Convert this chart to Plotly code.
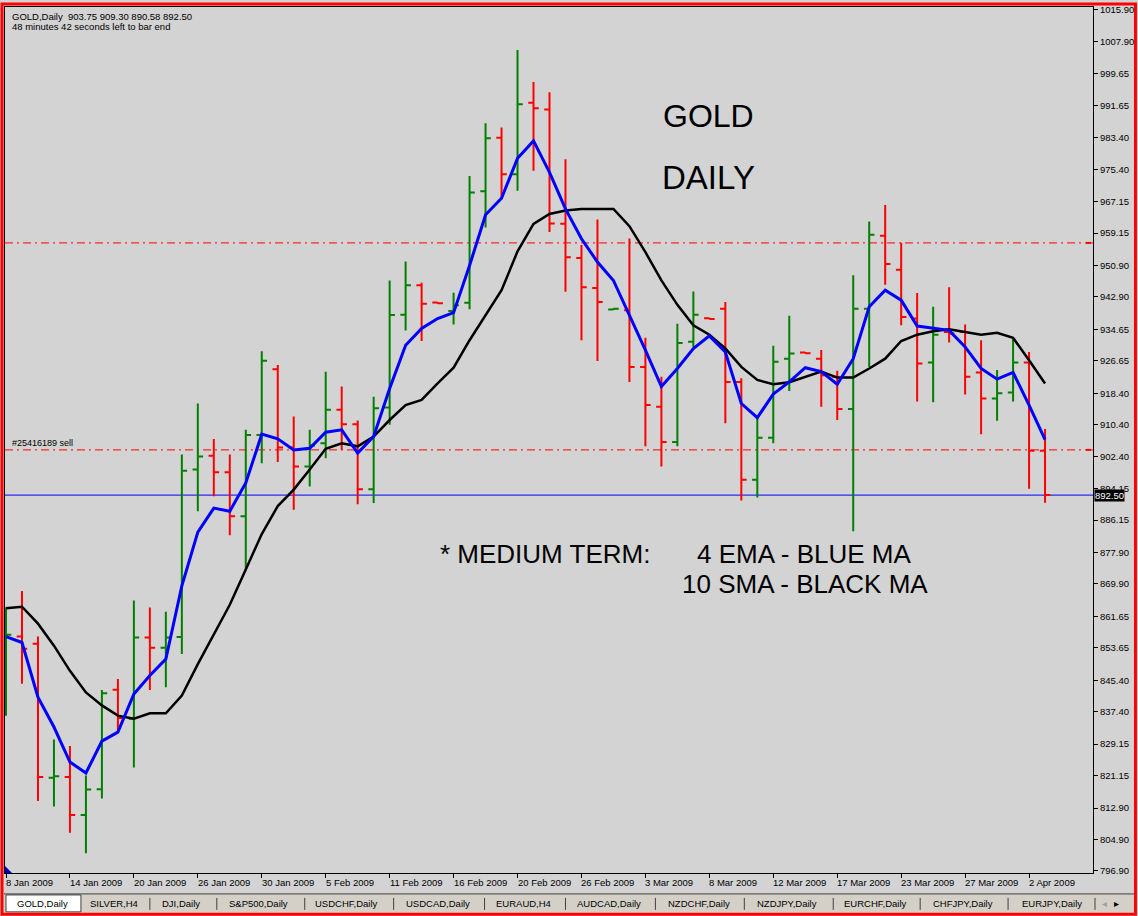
import plotly.graph_objects as go

# ---------------- data ----------------
opens = [840.0, 856.5, 854.7, 820.6, 820.8, 811.1, 817.7, 843.0, 835.6, 856.3,
         853.7, 856.4, 899.0, 902.5, 898.3, 887.1, 907.8, 924.5, 904.6, 899.8,
         905.7, 914.2, 910.5, 894.0, 914.8, 938.4, 945.9, 941.5, 939.3, 941.4,
         969.8, 983.4, 974.1, 992.3, 990.6, 961.5, 952.8, 945.2, 939.7, 939.5,
         925.1, 915.0, 906.0, 931.5, 937.5, 939.9, 921.3, 896.4, 907.1, 927.2,
         928.8, 927.2, 922.6, 914.4, 939.9, 958.5, 949.8, 937.4, 926.2, 934.0,
         934.0, 923.7, 917.1, 918.6, 926.2, 903.75]
highs = [863.9, 868.1, 856.5, 830.3, 828.7, 821.2, 842.9, 845.7, 865.7, 863.9,
         862.8, 902.8, 915.8, 906.8, 902.8, 909.1, 929.1, 925.6, 912.5, 909.1,
         923.9, 920.1, 911.5, 917.5, 947.1, 951.9, 946.5, 941.6, 944.0, 973.7,
         987.1, 986.0, 1005.7, 997.6, 995.0, 977.9, 956.1, 962.6, 940.0, 957.8,
         932.5, 922.6, 936.1, 944.3, 937.6, 941.6, 922.2, 912.5, 930.5, 938.1,
         928.9, 929.4, 924.1, 948.4, 962.1, 966.3, 956.7, 943.9, 940.4, 945.4,
         935.9, 931.9, 924.3, 932.5, 928.9, 909.30]
lows = [836.4, 844.5, 814.7, 813.3, 806.6, 801.4, 815.3, 832.2, 823.2, 842.9,
        843.6, 852.1, 888.4, 892.2, 882.3, 873.6, 900.6, 900.9, 888.8, 894.7,
        901.9, 904.0, 890.2, 890.5, 910.4, 934.4, 931.7, 941.2, 935.9, 939.8,
        960.6, 968.0, 969.9, 975.0, 959.4, 944.2, 931.9, 926.6, 939.6, 921.3,
        904.9, 899.8, 904.9, 930.2, 937.2, 910.8, 891.1, 891.9, 905.7, 919.0,
        928.5, 915.0, 911.6, 883.3, 925.1, 946.0, 935.7, 916.3, 916.1, 931.3,
        918.1, 908.0, 911.4, 916.3, 894.1, 890.58]
closes = [857.0, 853.4, 820.8, 821.0, 811.1, 817.6, 842.1, 835.8, 856.3, 853.7,
          856.3, 898.7, 902.3, 898.3, 887.1, 907.8, 926.7, 904.6, 899.8, 905.1,
          914.2, 910.5, 894.0, 914.6, 938.3, 945.9, 941.2, 941.3, 940.8, 969.5,
          983.3, 974.1, 991.9, 990.9, 961.6, 953.0, 945.4, 941.6, 939.9, 925.1,
          915.4, 906.0, 931.2, 938.4, 937.3, 921.3, 896.4, 907.1, 926.4, 928.5,
          928.6, 923.0, 914.4, 939.9, 958.7, 951.3, 937.8, 926.0, 933.3, 933.6,
          922.6, 917.1, 918.4, 926.2, 903.8, 892.50]
ema4 = [856.5, 855.0, 841.1, 833.5, 824.6, 821.8, 829.9, 832.2, 841.9, 846.6,
        850.8, 869.4, 883.1, 889.2, 888.4, 895.6, 908.0, 906.8, 904.0, 904.4,
        908.5, 909.1, 903.2, 907.4, 919.6, 930.6, 934.9, 937.4, 938.9, 950.9,
        963.8, 968.0, 978.2, 982.6, 974.6, 965.3, 957.7, 951.8, 947.1, 938.3,
        929.4, 920.1, 924.7, 929.8, 933.0, 928.9, 915.8, 912.2, 918.2, 921.3,
        924.9, 923.9, 920.7, 927.2, 940.4, 944.6, 942.1, 935.5, 934.9, 934.4,
        930.2, 924.7, 922.0, 923.7, 915.4, 906.6]
sma10 = [863.7, 864.1, 859.8, 854.2, 847.8, 842.3, 839.0, 836.4, 835.6, 837.0,
         837.0, 841.5, 849.5, 857.0, 864.6, 873.6, 882.6, 889.7, 893.9, 899.0,
         904.3, 905.7, 904.9, 907.4, 911.6, 915.4, 916.7, 920.9, 924.9, 931.9,
         938.3, 944.6, 954.5, 961.5, 964.0, 964.9, 965.3, 965.3, 965.3, 960.9,
         954.3, 947.1, 940.9, 935.7, 933.3, 929.8, 925.1, 921.8, 920.7, 921.2,
         922.6, 923.9, 922.4, 922.4, 924.7, 927.2, 931.7, 933.3, 934.2, 934.7,
         934.0, 933.3, 933.8, 932.5, 926.8, 920.9]
date_ticks = [0, 4, 8, 12, 16, 20, 24, 28, 32, 36, 40, 44, 48, 52, 56, 60, 64]
date_labels = ["8 Jan 2009", "14 Jan 2009", "20 Jan 2009", "26 Jan 2009",
               "30 Jan 2009", "5 Feb 2009", "11 Feb 2009", "16 Feb 2009",
               "20 Feb 2009", "26 Feb 2009", "3 Mar 2009", "8 Mar 2009",
               "12 Mar 2009", "17 Mar 2009", "23 Mar 2009", "27 Mar 2009",
               "2 Apr 2009"]
price_ticks = [1015.90, 1007.90, 999.65, 991.65, 983.40, 975.40, 967.15, 959.15,
               950.90, 942.90, 934.65, 926.65, 918.40, 910.40, 902.40, 894.15,
               886.15, 877.90, 869.90, 861.65, 853.65, 845.40, 837.40, 829.15,
               821.15, 812.90, 804.90, 796.90]
bid_price = 892.50
order_levels = [956.65, 904.0]
tabs = ["GOLD,Daily", "SILVER,H4", "DJI,Daily", "S&amp;P500,Daily", "USDCHF,Daily",
        "USDCAD,Daily", "EURAUD,H4", "AUDCAD,Daily", "NZDCHF,Daily", "NZDJPY,Daily",
        "EURCHF,Daily", "CHFJPY,Daily", "EURJPY,Daily"]
tab_centers = [42, 113, 180, 258, 346, 437, 523, 609, 699, 787, 875, 963, 1052]
tab_separators = [149, 216, 304, 393, 484, 565, 655, 744, 833, 920, 1008, 1095]

idx = list(range(len(opens)))

# ---------------- geometry helpers ----------------
W, H = 1138, 916
ML, MR, MT, MB = 4, 45, 4, 43
PW, PH = W - ML - MR, H - MT - MB


def PX(px):
    return (px - ML) / PW


def PY(py):
    return (H - MB - py) / PH


FONT = "Liberation Sans, Arial, sans-serif"
BG = "#D3D3D3"

fig = go.Figure()
fig.add_trace(go.Ohlc(
    x=idx, open=opens, high=highs, low=lows, close=closes,
    increasing=dict(line=dict(color="#008000", width=2)),
    decreasing=dict(line=dict(color="#FF0000", width=2)),
    tickwidth=0.33, hoverinfo="skip", showlegend=False))
fig.add_trace(go.Scatter(x=idx, y=sma10, mode="lines",
                         line=dict(color="#000000", width=2.5),
                         hoverinfo="skip", showlegend=False))
fig.add_trace(go.Scatter(x=idx, y=ema4, mode="lines",
                         line=dict(color="#0000FF", width=3),
                         hoverinfo="skip", showlegend=False))

shapes = []
# bid line
shapes.append(dict(type="line", xref="paper", yref="y", x0=0, x1=1,
                   y0=bid_price, y1=bid_price,
                   line=dict(color="#0000FF", width=1), layer="below"))
# order lines
for lv in order_levels:
    shapes.append(dict(type="line", xref="paper", yref="y", x0=0, x1=1,
                       y0=lv, y1=lv,
                       line=dict(color="#FF0000", width=1, dash="8px,4px,2px,4px"),
                       layer="below"))
    shapes.append(dict(type="line", xref="paper", yref="y", x0=PX(1086), x1=PX(1091),
                       y0=lv, y1=lv, line=dict(color="#FF0000", width=2)))
# tab bar
shapes.append(dict(type="rect", xref="paper", yref="paper",
                   x0=PX(3), x1=PX(1134), y0=PY(913), y1=PY(894),
                   fillcolor="#D4D0C8", line=dict(width=0), layer="below"))
shapes.append(dict(type="line", xref="paper", yref="paper",
                   x0=PX(3), x1=PX(1134), y0=PY(894), y1=PY(894),
                   line=dict(color="#404040", width=1)))
shapes.append(dict(type="rect", xref="paper", yref="paper",
                   x0=PX(5), x1=PX(80), y0=PY(912), y1=PY(895),
                   fillcolor="#FFFFFF", line=dict(color="#404040", width=1)))
for sx in tab_separators:
    shapes.append(dict(type="line", xref="paper", yref="paper",
                       x0=PX(sx), x1=PX(sx), y0=PY(910), y1=PY(898),
                       line=dict(color="#404040", width=1)))
# corner marker
shapes.append(dict(type="path", xref="paper", yref="paper",
                   path=f"M {PX(4)} {PY(866)} L {PX(4)} {PY(873)} L {PX(11)} {PY(873)} Z",
                   fillcolor="#0000C0", line=dict(width=0)))
# red window border
shapes.append(dict(type="rect", xref="paper", yref="paper",
                   x0=PX(1), x1=PX(1135.5), y0=PY(914.5), y1=PY(1),
                   line=dict(color="#FF0000", width=3)))

ann = []
for t, lab in zip(date_ticks, date_labels):
    ann.append(dict(x=t, xref="x", y=PY(883), yref="paper", text=lab,
                    xanchor="left", yanchor="middle", showarrow=False, xshift=-2,
                    font=dict(family=FONT, size=9.5, color="#000000")))
ann.append(dict(x=PX(9), y=PY(14), xref="paper", yref="paper",
                text="GOLD,Daily\u00a0\u00a0903.75 909.30 890.58 892.50",
                xanchor="left", yanchor="middle", showarrow=False,
                font=dict(family=FONT, size=9.5, color="#000000")))
ann.append(dict(x=PX(9), y=PY(24), xref="paper", yref="paper",
                text="48 minutes 42 seconds left to bar end",
                xanchor="left", yanchor="middle", showarrow=False,
                font=dict(family=FONT, size=9.5, color="#000000")))
ann.append(dict(x=PX(9), y=PY(442), xref="paper", yref="paper",
                text="#25416189 sell", xanchor="left", yanchor="middle",
                showarrow=False, font=dict(family=FONT, size=9, color="#000000")))
ann.append(dict(x=PX(1094), y=bid_price, xref="paper", yref="y",
                text="892.50", xanchor="left", yanchor="middle", showarrow=False,
                bgcolor="#000000", borderpad=0,
                font=dict(family=FONT, size=9.5, color="#FFFFFF")))
BIG = "Comic Sans MS, Liberation Sans, Arial, sans-serif"
ann.append(dict(x=PX(708), y=PY(113), xref="paper", yref="paper", text="GOLD",
                xanchor="center", yanchor="middle", showarrow=False,
                font=dict(family=BIG, size=32, color="#000000")))
ann.append(dict(x=PX(708), y=PY(175), xref="paper", yref="paper", text="DAILY",
                xanchor="center", yanchor="middle", showarrow=False,
                font=dict(family=BIG, size=33, color="#000000")))
ann.append(dict(x=PX(437), y=PY(553), xref="paper", yref="paper",
                text="* MEDIUM TERM:", xanchor="left", yanchor="middle",
                showarrow=False, font=dict(family=BIG, size=26, color="#000000")))
ann.append(dict(x=PX(913), y=PY(553), xref="paper", yref="paper",
                text="4 EMA - BLUE MA", xanchor="right", yanchor="middle",
                showarrow=False, font=dict(family=BIG, size=26, color="#000000")))
ann.append(dict(x=PX(805), y=PY(583), xref="paper", yref="paper",
                text="10 SMA - BLACK MA", xanchor="center", yanchor="middle",
                showarrow=False, font=dict(family=BIG, size=26, color="#000000")))
for name, cx in zip(tabs, tab_centers):
    ann.append(dict(x=PX(cx), y=PY(904), xref="paper", yref="paper", text=name,
                    xanchor="center", yanchor="middle", showarrow=False,
                    font=dict(family=FONT, size=9.5, color="#000000")))
ann.append(dict(x=PX(1105), y=PY(904), xref="paper", yref="paper", text="\u25c2",
                xanchor="center", yanchor="middle", showarrow=False,
                font=dict(family=FONT, size=10, color="#A0A0A0")))
ann.append(dict(x=PX(1117), y=PY(904), xref="paper", yref="paper", text="\u25b8",
                xanchor="center", yanchor="middle", showarrow=False,
                font=dict(family=FONT, size=10, color="#000000")))

fig.update_layout(
    width=W, height=H, autosize=False,
    margin=dict(l=ML, r=MR, t=MT, b=MB, pad=0),
    paper_bgcolor=BG, plot_bgcolor=BG,
    showlegend=False, shapes=shapes, annotations=ann,
    xaxis=dict(range=[-0.0625, 68], showgrid=False, zeroline=False,
               showline=True, linecolor="#000000", linewidth=1, mirror=True,
               ticks="outside", ticklen=4, tickcolor="#000000",
               tickvals=date_ticks, showticklabels=False,
               rangeslider=dict(visible=False), fixedrange=True),
    yaxis=dict(range=[796.37, 1016.66], side="right", showgrid=False,
               zeroline=False, showline=True, linecolor="#000000", linewidth=1,
               mirror=True, ticks="outside", ticklen=4, tickcolor="#000000",
               tickvals=price_ticks, ticktext=[f"{v:.2f}" for v in price_ticks],
               tickfont=dict(family=FONT, size=9.5, color="#000000"),
               fixedrange=True),
)

fig.write_html(
    "out.html",
    config={"displayModeBar": False},
    post_script="document.body.style.margin='0px';document.body.style.padding='0px';"
                "document.body.style.overflow='hidden';",
)
